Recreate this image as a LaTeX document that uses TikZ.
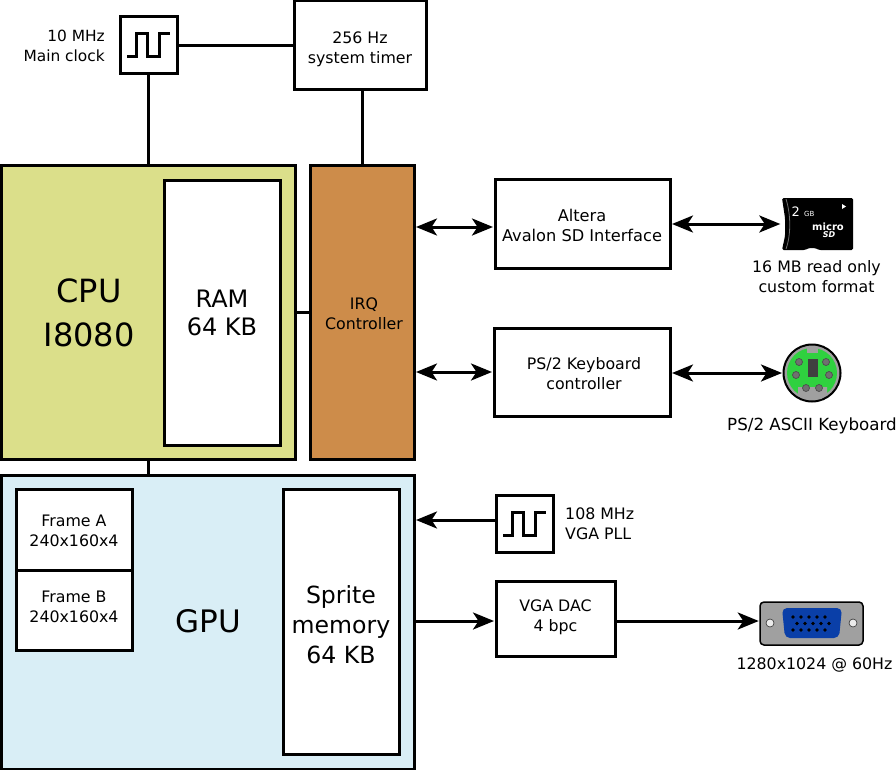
\documentclass[tikz,border=0pt]{standalone}
\usepackage{fontspec}
\setmainfont{DejaVu Sans}
\usetikzlibrary{calc,arrows.meta}
\definecolor{cpucol}{HTML}{DBDF8A}
\definecolor{irqcol}{HTML}{CD8C4A}
\definecolor{gpucol}{HTML}{D9EEF6}
\definecolor{pincol}{HTML}{707070}
\definecolor{shellcol}{HTML}{A0A0A0}
\definecolor{ps2col}{HTML}{2FD13F}
\definecolor{vgacol}{HTML}{0A3FA8}

\begin{document}
\begin{tikzpicture}[
  x=1pt, y=-1pt,
  box/.style={draw, line width=3pt, fill=white, align=center, inner sep=0pt},
  txt/.style={align=center, inner sep=0pt, font=\fontsize{15.8}{20}\selectfont},
  big/.style={align=center, inner sep=0pt, font=\fontsize{32}{44}\selectfont},
  link/.style={draw, line width=3pt},
  dbl/.style={link, {Stealth[length=21pt,width=17pt,inset=5.5pt]}-{Stealth[length=21pt,width=17pt,inset=5.5pt]}, shorten <=.5pt, shorten >=.5pt},
  sgl/.style={link, -{Stealth[length=21pt,width=17pt,inset=5.5pt]}, shorten >=.5pt},
  pulse/.pic={\draw[line width=3pt] (-21.5,11.5) -- (-12.5,11.5) -- (-12.5,-11.5) -- (-1.5,-11.5)
    -- (-1.5,11.5) -- (10.5,11.5) -- (10.5,-11.5) -- (21.5,-11.5);}
]
\useasboundingbox (0,0) rectangle (896,770);

% big blocks
\node[box, fill=cpucol, minimum width=294pt, minimum height=293pt] (cpu) at (148,312.5) {};
\node[big] (cpulabel) at (89,313) {CPU\\I8080};
\node[box, minimum width=116pt, minimum height=264pt, font=\fontsize{24}{28}\selectfont] (ram) at (222,313) {RAM\\64 KB};
\node[box, fill=irqcol, minimum width=104pt, minimum height=293pt] (irq) at (362,312.5) {};
\node[txt] (irqlabel) at (364,313.5) {IRQ\\Controller};
\node[box, fill=gpucol, minimum width=413pt, minimum height=294pt] (gpu) at (207.5,622) {};
\node[big, font=\fontsize{31}{44}\selectfont] (gpulabel) at (208,621) {GPU};
\node[box, minimum width=116pt, minimum height=81pt] (framea) at (74,529.5) {};
\node[txt] (framealabel) at (74,531) {Frame A\\240x160x4};
\node[box, minimum width=116pt, minimum height=80pt] (frameb) at (74,610) {};
\node[txt] (frameblabel) at (74,607) {Frame B\\240x160x4};
\node[box, minimum width=116pt, minimum height=265pt] (sprite) at (341,621.5) {};
\node[align=center, inner sep=0pt, font=\fontsize{23.6}{30}\selectfont] (spritelabel) at (341,625) {Sprite\\memory\\64 KB};

% top row
\node[box, minimum width=57pt, minimum height=57pt] (clock) at (148.5,45.5) {};
\pic at (clock) {pulse};
\node[txt, align=right, anchor=east, font=\fontsize{15.4}{20}\selectfont] (clocklabel) at (105,46) {10 MHz\\Main clock};
\node[box, minimum width=132pt, minimum height=89pt] (timer) at (360,45.5) {};
\node[txt] (timerlabel) at (360,49.5) {256 Hz\\system timer};

% peripherals
\node[box, minimum width=175pt, minimum height=88pt] (sd) at (582.5,224) {};
\node[txt, font=\fontsize{16.2}{20}\selectfont] (sdlabel) at (582,225) {Altera\\Avalon SD Interface};
\node[box, minimum width=176pt, minimum height=88pt] (keyb) at (582,372) {};
\node[txt] (keyblabel) at (584,374) {PS/2 Keyboard\\controller};
\node[box, minimum width=57pt, minimum height=57pt] (pll) at (524.5,523.5) {};
\pic at (pll) {pulse};
\node[txt, anchor=west, align=left] (plllabel) at (565,524) {108 MHz\\VGA PLL};
\node[box, minimum width=119pt, minimum height=75pt] (dac) at (555.5,618.5) {};
\node[txt] (daclabel) at (555.5,617.5) {VGA DAC\\4 bpc};

% micro sd card
\node[inner sep=0pt, minimum width=72pt, minimum height=52pt] (card) at (817,224) {};
\fill[rounded corners=1.5pt] (782,198) -- (853,198) -- (853,250) -- (819,250) -- (815,248) -- (809,248)
  -- (805,250) -- (782,250) -- (785,236) -- (785,218) -- cycle;
\draw[pincol, line width=.8pt] (786,199) .. controls (791,215) and (791,235) .. (786,249);
\fill[white] (842,204) -- (846,206.5) -- (842,209) -- cycle;
\node[white, inner sep=0pt, font=\fontsize{13}{13}\selectfont] (cardsize) at (803,212) {2 {\fontsize{7}{7}\selectfont GB}};
\node[white, inner sep=0pt, font=\fontsize{10}{10}\bfseries\selectfont] (cardmicro) at (828,227) {micro};
\node[white, inner sep=0pt, font=\fontsize{8}{8}\bfseries\itshape\selectfont] (cardsd) at (829,235) {SD};
\node[txt] (cardlabel) at (816.5,277) {16 MB read only\\custom format};

% ps/2 connector
\node[circle, draw, line width=2pt, fill=shellcol, inner sep=0pt, minimum size=57pt] (mdin) at (812,373) {};
\fill[ps2col] (812,373) circle (25pt);
\fill[shellcol] (807,347) rectangle (818,353);
\fill[shellcol] (798,394) -- (798,387) -- (827,387) -- (827,394) -- (821,399) -- (804,399) -- cycle;
\fill[black!75] (808,359) rectangle (818,377);
\foreach \px/\py in {799/362, 826/362, 796/375, 829/375, 806/388, 819/388}
  \filldraw[fill=pincol, draw=black!70, line width=.7pt] (\px,\py) circle (3.5pt);
\node[txt, font=\fontsize{16.7}{20}\selectfont] (mdinlabel) at (812,426) {PS/2 ASCII Keyboard};

% vga connector
\node[draw, line width=1.5pt, fill=shellcol, rounded corners=4pt, inner sep=0pt, minimum width=103pt, minimum height=43pt] (vga) at (811.5,623.5) {};
\fill[vgacol, rounded corners=5pt] (782,608) -- (842,608) -- (839,638) -- (785,638) -- cycle;
\foreach \px in {0,...,4} {
  \fill (793+8*\px,617) circle (1.8pt);
  \fill (797+8*\px,623.5) circle (1.8pt);
  \fill (793+8*\px,630) circle (1.8pt);
}
\filldraw[fill=black!8, draw=black!80, line width=.6pt] (770,623) circle (4pt);
\filldraw[fill=black!8, draw=black!80, line width=.6pt] (853,623) circle (4pt);
\node[txt] (vgalabel) at (814.5,665) {1280x1024 @ 60Hz};

% connections
\draw[link] (clock) -- (timer);
\draw[link] (clock) -- (clock |- cpu.north);
\draw[link] (irq.north |- timer.south) -- (irq.north);
\draw[link] (cpu.east) -- (irq.west);
\draw[link] (clock |- cpu.south) -- (clock |- gpu.north);

\draw[dbl] ([yshift=-3pt]irq.east |- sd.west) -- ([yshift=-3pt]sd.west);
\draw[dbl] (sd.east) -- (card.west);
\draw[dbl] (irq.east |- keyb.west) -- (keyb.west);
\draw[dbl] (keyb.east |- mdin.west) -- (mdin.west);

\draw[sgl] (pll.west |- 0,520) -- (gpu.east |- 0,520);
\draw[sgl] (gpu.east |- 0,621) -- (dac.west |- 0,621);
\draw[sgl] (dac.east |- 0,621) -- (vga.west |- 0,621);
\end{tikzpicture}
\end{document}
